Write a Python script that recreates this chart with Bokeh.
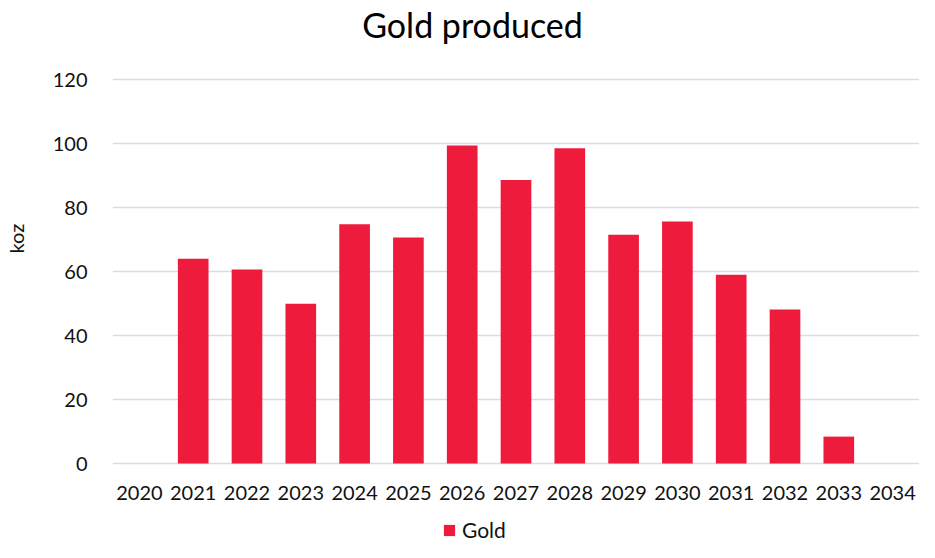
from bokeh.plotting import figure
from bokeh.models import (FactorRange, Range1d, FixedTicker, Legend, LegendItem, Label,
                          Title, LinearAxis)
from bokeh.embed import file_html
from bokeh.resources import INLINE

years = ["2020", "2021", "2022", "2023", "2024", "2025", "2026", "2027",
         "2028", "2029", "2030", "2031", "2032", "2033", "2034"]
gold_koz = [0, 64.0, 60.6, 49.9, 74.8, 70.6, 99.4, 88.6,
            98.5, 71.5, 75.6, 59.0, 48.1, 8.4, 0]
y_ticks = [0, 20, 40, 60, 80, 100, 120]

FONT = "Lato"
BAR = "#EE1B3D"
GRID = "#D5DCF2"
TXT = "#111111"

W, H = 919, 542
LEFT = 112
PX_PER_UNIT = 3.2
ZERO_PX = 463
y_top = ZERO_PX / PX_PER_UNIT
y_bottom = -(H - ZERO_PX) / PX_PER_UNIT

p = figure(width=W, height=H, x_range=FactorRange(*years), y_range=Range1d(y_bottom, y_top),
           output_backend="svg", toolbar_location=None, title=None,
           min_border_left=LEFT, min_border_right=0, min_border_top=0, min_border_bottom=0)
p.outline_line_color = None
p.background_fill_color = "white"
p.border_fill_color = "white"

r = p.vbar(x=years, top=gold_koz, width=0.57, fill_color=BAR, line_color=None)

p.xgrid.grid_line_color = None
p.ygrid.grid_line_color = GRID
p.ygrid.grid_line_width = 1.5
p.yaxis.ticker = FixedTicker(ticks=y_ticks)
p.xaxis.fixed_location = 0

for ax in (p.xaxis[0], p.yaxis[0]):
    ax.axis_line_color = None
    ax.major_tick_line_color = None
    ax.minor_tick_line_color = None
    ax.major_tick_in = 0
    ax.major_tick_out = 0
    ax.major_label_text_font = FONT
    ax.major_label_text_font_size = "20px"
    ax.major_label_text_color = TXT
p.yaxis.major_label_standoff = 25
p.xaxis.major_label_standoff = 22

# invisible axis used only as a gap between the tick labels and the "koz" title
gap = LinearAxis(ticker=FixedTicker(ticks=[0]), major_label_overrides={0: ""},
                 axis_line_color=None, major_tick_line_color=None,
                 minor_tick_line_color=None, major_tick_in=0, major_tick_out=22,
                 major_label_standoff=0)
p.add_layout(gap, "left")

koz = Title(text="koz", align="left", offset=289, vertical_align="bottom", standoff=0,
            text_font=FONT, text_font_size="20px", text_font_style="normal",
            text_color=TXT)
p.add_layout(koz, "left")

p.add_layout(Label(x=360, y=H - 23.5, x_units="screen", y_units="screen",
                   text="Gold produced", text_align="center", text_baseline="alphabetic",
                   text_font=FONT, text_font_size="34px", text_color="#000000"))

legend = Legend(items=[LegendItem(label="Gold", renderers=[r])],
                location=(330, 0), orientation="horizontal",
                glyph_width=14, glyph_height=14, label_height=14,
                label_standoff=6, padding=0, spacing=0, margin=0,
                border_line_color=None, background_fill_alpha=0,
                label_text_font=FONT, label_text_font_size="21px",
                label_text_color=TXT)
p.add_layout(legend, "center")

open("out.html", "w").write(file_html(p, INLINE))
